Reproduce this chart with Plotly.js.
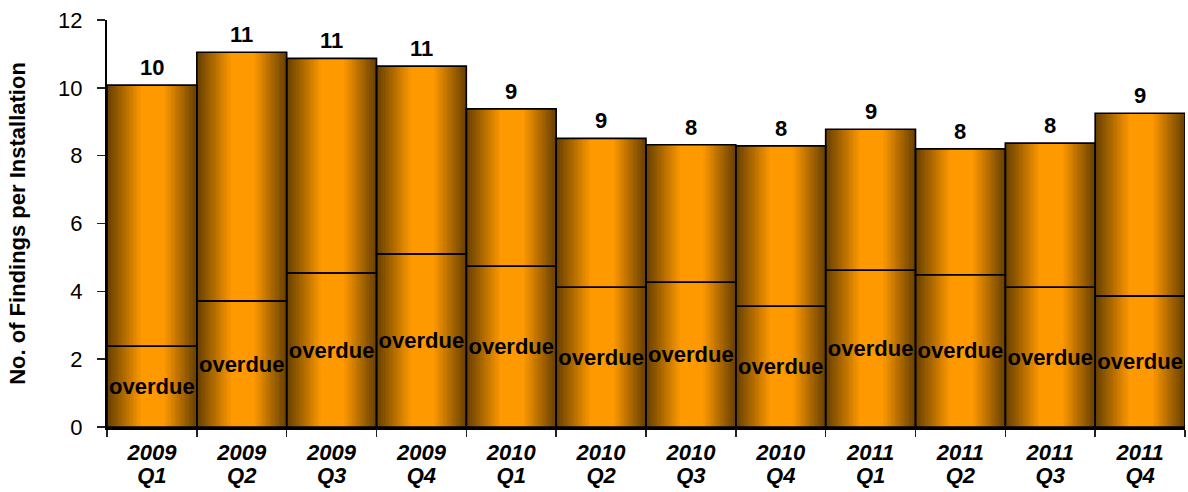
<!DOCTYPE html>
<html>
<head>
<meta charset="utf-8">
<script src="https://cdn.plot.ly/plotly-3.0.1.min.js"></script>
<style>html,body{margin:0;padding:0;background:#fff;}#chart{width:1188px;height:492px;}</style>
</head>
<body>
<div id="chart"></div>
<script>
// ---- data ----
var years    = ['2009','2009','2009','2009','2010','2010','2010','2010','2011','2011','2011','2011'];
var quarters = ['Q1','Q2','Q3','Q4','Q1','Q2','Q3','Q4','Q1','Q2','Q3','Q4'];
var totalFindings   = [10.08, 11.05, 10.87, 10.64, 9.38, 8.51, 8.32, 8.29, 8.78, 8.20, 8.37, 9.25];
var overdueFindings = [2.38, 3.71, 4.54, 5.10, 4.74, 4.12, 4.27, 3.56, 4.62, 4.49, 4.12, 3.86];
var topLabels = [10, 11, 11, 11, 9, 9, 8, 8, 9, 8, 8, 9];
var overdueLabel = 'overdue';

// ---- build ----
var pos = years.map(function (_, i) { return i; });
var bounds = [-0.5].concat(pos.map(function (p) { return p + 0.5; }));
var FONT = 'Liberation Sans, Arial, sans-serif';
var dark = [104, 64, 0], light = [255, 153, 0];
var N = 26;
var traces = [];
for (var k = 0; k < N; k++) {
  var t = k / (N - 1);
  var left = -0.5 + 0.38 * t;
  var right = 0.5 - 0.36 * t;
  var c = dark.map(function (d, j) { return Math.round(d + (light[j] - d) * t); });
  traces.push({
    type: 'bar', x: pos, y: totalFindings, base: 0, xaxis: 'x',
    offset: left, width: right - left,
    marker: { color: 'rgb(' + c.join(',') + ')', line: { width: 0 } },
    hoverinfo: 'skip', showlegend: false
  });
}
var upper = totalFindings.map(function (v, i) { return v - overdueFindings[i]; });
traces.push({
  type: 'bar', x: pos, y: upper, base: overdueFindings, xaxis: 'x2',
  offset: -0.5, width: 1,
  marker: { color: 'rgba(0,0,0,0)', line: { color: '#000', width: 1.6 } },
  hoverinfo: 'skip', showlegend: false
});
traces.push({
  type: 'bar', x: pos, y: overdueFindings, base: 0, xaxis: 'x3',
  offset: -0.5, width: 1,
  marker: { color: 'rgba(0,0,0,0)', line: { color: '#000', width: 1.6 } },
  text: overdueFindings.map(function () { return overdueLabel; }),
  textposition: 'inside', insidetextanchor: 'middle', textangle: 0,
  constraintext: 'none',
  insidetextfont: { family: FONT, size: 22, color: '#000', weight: 'bold' },
  hoverinfo: 'skip', showlegend: false
});

var annotations = pos.map(function (p, i) {
  return {
    x: p, y: totalFindings[i], xref: 'x', yref: 'y', text: String(topLabels[i]),
    showarrow: false, yanchor: 'bottom', yshift: 3,
    font: { family: FONT, size: 22, color: '#000', weight: 'bold' }
  };
});

var tickFont = { family: FONT, size: 22, color: '#000', weight: 'bold', style: 'italic' };
var layout = {
  width: 1188, height: 492,
  margin: { l: 107, r: 3, t: 20, b: 65 },
  paper_bgcolor: '#fff', plot_bgcolor: '#fff',
  barmode: 'overlay', bargap: 0,
  font: { family: FONT, color: '#000' },
  annotations: annotations,
  xaxis: {
    range: [-0.5, 11.5], tickmode: 'array', tickvals: pos, ticktext: years,
    ticks: '', showline: false, showgrid: false, zeroline: false,
    tickfont: tickFont, ticklabelstandoff: 10, fixedrange: true
  },
  xaxis2: {
    overlaying: 'x', matches: 'x', anchor: 'y', side: 'bottom',
    tickmode: 'array', tickvals: pos, ticktext: quarters,
    ticks: '', showline: false, showgrid: false, zeroline: false,
    tickfont: tickFont, ticklabelstandoff: 33, fixedrange: true
  },
  xaxis3: {
    overlaying: 'x', matches: 'x', anchor: 'y', side: 'bottom',
    tickmode: 'array', tickvals: bounds, showticklabels: false,
    ticks: 'outside', ticklen: 7, tickwidth: 1.5, tickcolor: '#222',
    showline: true, linecolor: '#000', linewidth: 3, showgrid: false, zeroline: false,
    fixedrange: true
  },
  yaxis: {
    range: [0, 12], dtick: 2, ticks: 'outside', ticklen: 8, tickwidth: 1.5, tickcolor: '#222',
    showline: true, linecolor: '#000', linewidth: 2, showgrid: false, zeroline: false,
    tickfont: { family: FONT, size: 22, color: '#000' },
    ticklabelstandoff: 10,
    title: { text: 'No. of Findings per Installation', font: { family: FONT, size: 22, color: '#000', weight: 'bold' }, standoff: 26 },
    fixedrange: true
  }
};

Plotly.newPlot('chart', traces, layout, { displayModeBar: false, staticPlot: true });
</script>
</body>
</html>
